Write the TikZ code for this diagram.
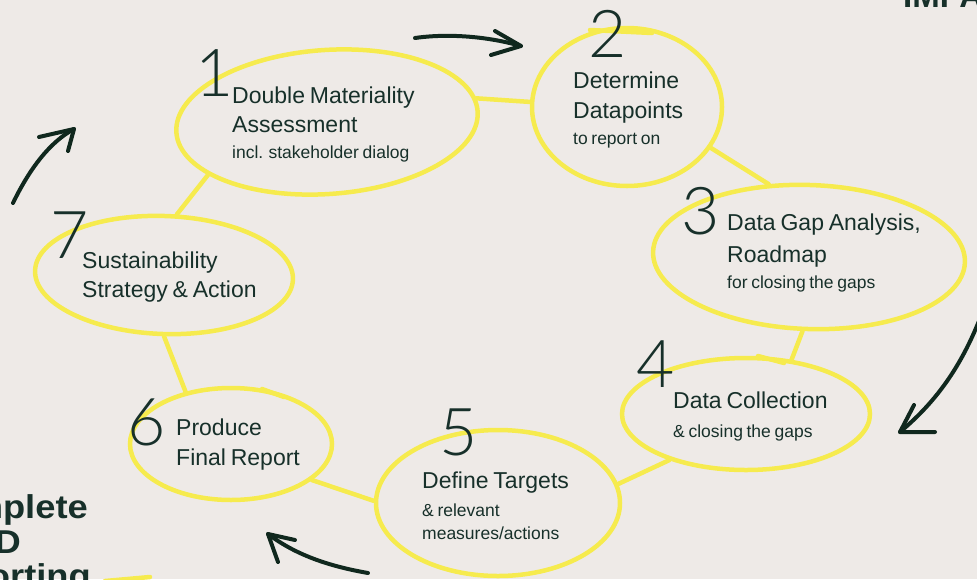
\documentclass[tikz,border=0pt]{standalone}
\usepackage{fontspec}
\setmainfont{Liberation Sans}[WordSpace=0.75]
\newfontfamily\numfont{Lato Light}
\usetikzlibrary{shapes.geometric}
\definecolor{bg}{HTML}{EEEAE7}
\definecolor{ink}{HTML}{17302A}
\definecolor{hl}{HTML}{F6EB4E}
\definecolor{arr}{HTML}{10281E}
\begin{document}
\begin{tikzpicture}[x=1pt,y=-1pt,
  loope/.style={ellipse, draw=hl, line width=4.5pt, inner sep=0pt},
  link/.style={draw=hl, line width=4.5pt, line cap=round},
  maintxt/.style={anchor=base west, inner sep=0pt, text=ink, font=\fontsize{23}{27}\selectfont},
  subtxt/.style={anchor=base west, inner sep=0pt, text=ink, font=\fontsize{17.5}{21}\selectfont},
  numtxt/.style={anchor=base west, inner sep=0pt, text=ink, font=\numfont\fontsize{66}{70}\selectfont},
  boldtxt/.style={anchor=base east, inner sep=0pt, text=ink, font=\bfseries\fontsize{33}{36}\selectfont},
  hand/.style={draw=arr, line width=4pt, line cap=round, line join=round}]
\useasboundingbox (0,0) rectangle (977,579);
\clip (0,0) rectangle (977,579);
\fill[bg] (0,0) rectangle (977,579);

% loops
\node[loope, minimum width=302pt, minimum height=144pt, rotate=4] (e1) at (327,122) {};
\node[loope, minimum width=190pt, minimum height=158pt] (e2) at (627,107) {};
\node[loope, minimum width=312pt, minimum height=144pt, rotate=-2] (e3) at (809,257) {};
\node[loope, minimum width=248pt, minimum height=112pt] (e4) at (746,414) {};
\node[loope, minimum width=244pt, minimum height=146pt] (e5) at (498,503) {};
\node[loope, minimum width=202pt, minimum height=112pt] (e6) at (231,444) {};
\node[loope, minimum width=258pt, minimum height=118pt, rotate=-2] (e7) at (164,275) {};

% hand-drawn overlaps of the loops
\coordinate (k2a) at (590,30); \coordinate (k2b) at (652,33);
\draw[link] (k2a) -- (k2b);
\coordinate (k4a) at (758,356); \coordinate (k4b) at (784,363);
\draw[link] (k4a) -- (k4b);
\coordinate (k6a) at (262,389); \coordinate (k6b) at (284,397);
\draw[link] (k6a) -- (k6b);

% connectors
\draw[link] (e1.5) -- (e2.177);
\draw[link] (e2.-26) -- (e3.121);
\draw[link] (e3.-93) -- (e4.50);
\draw[link] (e4.211) -- (e5.9);
\draw[link] (e5.179) -- (e6.-24);
\draw[link] (e6.131) -- (e7.-88);
\draw[link] (e7.80) -- (e1.200);
\coordinate (ya) at (105,581);
\coordinate (yb) at (150,577);
\draw[link] (ya) -- (yb);

% texts
\node[maintxt] (t1a) at (232,103) {Double Materiality};
\node[maintxt] (t1b) at (232,132) {Assessment};
\node[subtxt]  (t1c) at (232,158) {incl. stakeholder dialog};
\node[maintxt] (t2a) at (573,88) {Determine};
\node[maintxt] (t2b) at (573,118) {Datapoints};
\node[subtxt]  (t2c) at (573,144) {to report on};
\node[maintxt] (t3a) at (727,230) {Data Gap Analysis,};
\node[maintxt] (t3b) at (727,262) {Roadmap};
\node[subtxt]  (t3c) at (727,288) {for closing the gaps};
\node[maintxt] (t4a) at (673,408) {Data Collection};
\node[subtxt]  (t4b) at (673,437) {\& closing the gaps};
\node[maintxt] (t5a) at (422,488) {Define Targets};
\node[subtxt]  (t5b) at (422,516) {\& relevant};
\node[subtxt]  (t5c) at (422,539) {measures/actions};
\node[maintxt] (t6a) at (176,435) {Produce};
\node[maintxt] (t6b) at (176,465) {Final Report};
\node[maintxt] (t7a) at (82,268) {Sustainability};
\node[maintxt] (t7b) at (82,297) {Strategy \& Action};

% numbers
\node[numtxt] (n1) at (195,96) {1};
\node[numtxt] (n2) at (588,57) {2};
\node[numtxt] (n3) at (681,234) {3};
\node[numtxt] (n4) at (636,387) {4};
\node[numtxt] (n5) at (439,455) {5};
\node[numtxt] (n6) at (127,445) {6};
\node[numtxt] (n7) at (50,258) {7};

% bold cut-off titles
\node[anchor=base west, inner sep=0pt, text=ink, font=\bfseries\fontsize{33}{36}\selectfont] (imp) at (903,7) {IMPA};
\node[boldtxt] (c1) at (88,518) {\scalebox{1.1}[1]{Complete}};
\node[boldtxt] (c2) at (21,553) {\scalebox{1.1}[1]{CSRD}};
\node[boldtxt] (c3) at (91,587) {\scalebox{1.1}[1]{Reporting}};

% hand drawn arrows
\coordinate (a1s) at (415,38); \coordinate (a1t) at (521,46);
\coordinate (a1b) at (495,31); \coordinate (a1c) at (491,55);
\draw[hand] (a1s) .. controls (450,33) and (490,37) .. (a1t);
\draw[hand] (a1b) -- (a1t) -- (a1c);

\coordinate (a2s) at (13,203); \coordinate (a2t) at (74,129);
\coordinate (a2b) at (39,137); \coordinate (a2c) at (68,151);
\draw[hand] (a2s) .. controls (30,168) and (50,142) .. (a2t);
\draw[hand] (a2b) -- (a2t) -- (a2c);

\coordinate (a3s) at (985,305); \coordinate (a3t) at (900,432);
\coordinate (a3b) at (914,405); \coordinate (a3c) at (935,432);
\draw[hand] (a3s) .. controls (962,370) and (932,405) .. (a3t);
\draw[hand] (a3b) -- (a3t) -- (a3c);

\coordinate (a4s) at (368,573); \coordinate (a4t) at (268,534);
\coordinate (a4b) at (295,540); \coordinate (a4c) at (278,562);
\draw[hand] (a4s) .. controls (322,565) and (292,552) .. (a4t);
\draw[hand] (a4b) -- (a4t) -- (a4c);
\end{tikzpicture}
\end{document}
